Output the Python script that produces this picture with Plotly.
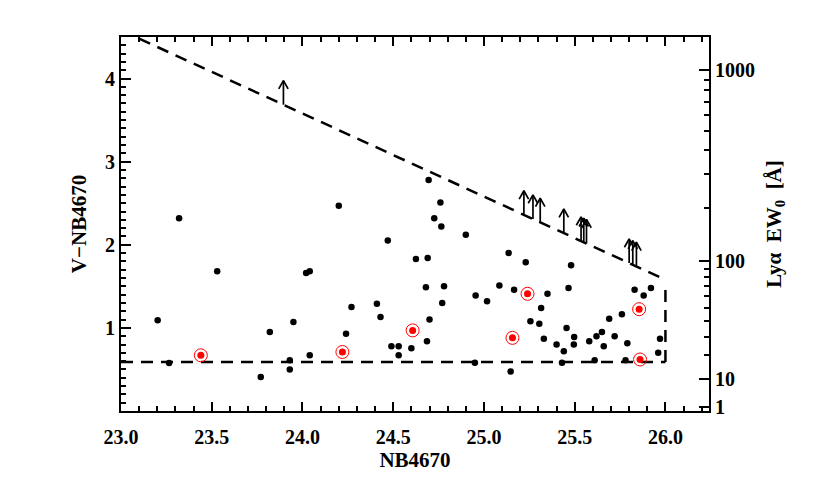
import numpy as np
import plotly.graph_objects as go

# ---- data ----
nb_black = [23.202, 23.265, 23.32, 23.53, 23.77, 23.82, 23.93, 23.93, 23.95, 24.02,
            24.04, 24.04, 24.20, 24.24, 24.27, 24.41, 24.43, 24.47, 24.49, 24.53,
            24.53, 24.60, 24.625, 24.686, 24.68, 24.69, 24.695, 24.70, 24.726, 24.76,
            24.765, 24.77, 24.78, 24.90, 24.95, 24.954, 25.017, 25.085, 25.136, 25.147,
            25.166, 25.23, 25.256, 25.305, 25.315, 25.33, 25.35, 25.40, 25.43, 25.44,
            25.455, 25.466, 25.48, 25.495, 25.497, 25.58, 25.61, 25.62, 25.65, 25.66,
            25.69, 25.72, 25.76, 25.78, 25.79, 25.83, 25.88, 25.92, 25.96, 25.97]
col_black = [1.093, 0.578, 2.32, 1.68, 0.41, 0.95, 0.61, 0.50, 1.07, 1.66,
             1.68, 0.67, 2.47, 0.93, 1.25, 1.29, 1.13, 2.05, 0.78, 0.78,
             0.67, 0.755, 1.83, 0.84, 1.49, 1.84, 2.78, 1.10, 2.32, 2.51,
             2.22, 1.30, 1.50, 2.12, 0.58, 1.39, 1.32, 1.51, 1.90, 0.475,
             1.46, 1.79, 1.08, 1.05, 1.24, 0.87, 1.41, 0.80, 0.58, 0.72,
             1.00, 1.48, 1.755, 0.80, 0.89, 0.84, 0.61, 0.90, 0.95, 0.78,
             1.11, 0.90, 1.165, 0.61, 0.815, 1.46, 1.39, 1.48, 0.70, 0.87]

nb_red = [23.44, 24.22, 24.607, 25.157, 25.24, 25.855, 25.86]
col_red = [0.67, 0.71, 0.97, 0.88, 1.41, 1.225, 0.62]

# objects with V below the limit: lower limits on colour
nb_limits = [23.895, 25.22, 25.27, 25.31, 25.44, 25.535, 25.55, 25.565, 25.80, 25.82, 25.84]

V_LIM = 27.58        # V limiting magnitude -> diagonal selection line
COLOR_CUT = 0.59     # colour cut
NB_LIM = 26.0        # NB limiting magnitude
ARROW_LEN = 0.29

# right-axis: Lya EW0 <-> colour conversion  c = 2.5 log10(1 + k * EW)
EW_K = 0.04265
ew_major = [1, 10, 100, 1000]
ew_minor = [20, 30, 40, 50, 60, 70, 80, 90, 200, 300, 400, 500, 600, 700, 800, 900]

x_ticks = [23.0, 23.5, 24.0, 24.5, 25.0, 25.5, 26.0]
y_ticks = [1, 2, 3, 4]

X_RANGE = [23.0, 26.24]
Y_RANGE = [0.0, 4.5]


def ew_to_color(ew):
    return 2.5 * np.log10(1.0 + EW_K * np.asarray(ew, dtype=float))


FONT = "Liberation Serif"
DASH = dict(color="black", width=2.5, dash="12px,8px")
fig = go.Figure()

# selection lines
xl = np.array([X_RANGE[0], NB_LIM])
fig.add_trace(go.Scatter(x=xl, y=V_LIM - xl, mode="lines", line=DASH,
                         hoverinfo="skip", showlegend=False))
fig.add_trace(go.Scatter(x=xl, y=[COLOR_CUT, COLOR_CUT], mode="lines", line=DASH,
                         hoverinfo="skip", showlegend=False))
fig.add_trace(go.Scatter(x=[NB_LIM, NB_LIM], y=[COLOR_CUT, V_LIM - NB_LIM - 0.08], mode="lines",
                         line=DASH, hoverinfo="skip", showlegend=False))

# arrows (lower limits)
hw = 0.026
hh = 0.1
ax, ay = [], []
for nb in nb_limits:
    base = V_LIM - nb
    top = base + ARROW_LEN
    ax += [nb, nb, None, nb - hw, nb, nb + hw, None]
    ay += [base, top, None, top - hh, top, top - hh, None]
fig.add_trace(go.Scatter(x=ax, y=ay, mode="lines",
                         line=dict(color="black", width=1.7),
                         hoverinfo="skip", showlegend=False))

# points
fig.add_trace(go.Scatter(x=nb_black, y=col_black, mode="markers",
                         marker=dict(color="black", size=6.5, line=dict(width=0)),
                         showlegend=False))
fig.add_trace(go.Scatter(x=nb_red, y=col_red, mode="markers",
                         marker=dict(color="rgba(0,0,0,0)", size=13,
                                     line=dict(color="red", width=1)),
                         showlegend=False))
fig.add_trace(go.Scatter(x=nb_red, y=col_red, mode="markers",
                         marker=dict(color="red", size=7, line=dict(width=0)),
                         showlegend=False))

# invisible trace for the right axis
fig.add_trace(go.Scatter(x=[X_RANGE[0]], y=[Y_RANGE[0]], yaxis="y2", mode="markers",
                         marker=dict(opacity=0), hoverinfo="skip", showlegend=False))

tickfont = dict(family=FONT, size=20, color="black", weight="bold")
titlefont = dict(family=FONT, size=21, color="black", weight="bold")
NBSP = "\u00a0"

fig.update_layout(
    width=830, height=488,
    margin=dict(l=113, r=129, t=29, b=85),
    paper_bgcolor="white", plot_bgcolor="white",
    xaxis=dict(range=X_RANGE, tickvals=x_ticks, ticktext=[f"{v:.1f}" for v in x_ticks],
               ticks="inside", ticklen=9, tickwidth=1.5, tickcolor="black",
               minor=dict(dtick=0.1, tick0=23.0, ticks="inside", ticklen=5, tickwidth=1.5,
                          tickcolor="black"),
               showline=True, linecolor="black", linewidth=2, mirror="ticks",
               showgrid=False, zeroline=False, tickfont=tickfont, automargin=False,
               ticklabelstandoff=7,
               title=dict(text="NB4670", font=titlefont, standoff=1)),
    yaxis=dict(range=Y_RANGE, tickvals=y_ticks, ticks="inside", ticklen=10, tickwidth=1.5,
               tickcolor="black",
               minor=dict(dtick=0.1, tick0=0, ticks="inside", ticklen=5, tickwidth=1.5,
                          tickcolor="black"),
               showline=True, linecolor="black", linewidth=2, mirror=True,
               showgrid=False, zeroline=False, tickfont=tickfont, automargin=False,
               title=dict(text="V−NB4670", font=titlefont, standoff=13)),
    yaxis2=dict(range=Y_RANGE, overlaying="y", side="right",
                tickvals=list(ew_to_color(ew_major)), ticktext=[str(v) for v in ew_major],
                ticks="inside", ticklen=10, tickwidth=1.5, tickcolor="black",
                minor=dict(tickvals=list(ew_to_color(ew_minor)), ticks="inside", ticklen=5,
                           tickwidth=1.5, tickcolor="black"),
                showline=True, linecolor="black", linewidth=2,
                showgrid=False, zeroline=False, tickfont=tickfont, automargin=False,
                title=dict(text=f"Lyα{NBSP}{NBSP}EW<sub>0</sub>{NBSP}{NBSP}[Å]",
                           font=titlefont, standoff=12)),
)

fig.write_html("out.html")
